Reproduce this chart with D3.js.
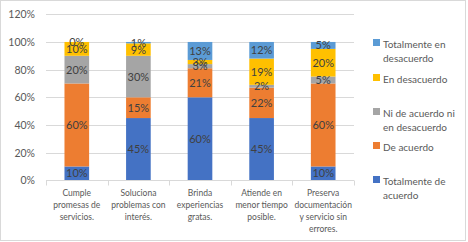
<!DOCTYPE html>
<html><head><meta charset="utf-8">
<script src="https://cdn.jsdelivr.net/npm/d3@7"></script>
<style>body{margin:0;background:#fff}svg{display:block;font-family:Lato,"Liberation Sans",sans-serif}</style>
</head><body><svg id="c" width="468" height="242"></svg>
<script>
const categories = [["Cumple","promesas de","servicios."],["Soluciona","problemas con","interés."],["Brinda","experiencias","gratas."],["Atiende en","menor tiempo","posible."],["Preserva","documentación","y servicio sin","errores."]];
const seriesNames = ["Totalmente de acuerdo","De acuerdo","Ni de acuerdo ni en desacuerdo","En desacuerdo","Totalmente en desacuerdo"];
const totAcuerdo = [10,45,60,45,10];
const deAcuerdo = [60,15,21,22,60];
const niNi = [20,30,3,2,5];
const enDesacuerdo = [10,9,3,19,20];
const totDesacuerdo = [0,1,13,12,5];
const yTicks = [0,20,40,60,80,100,120];
const colors = ["#4472C4","#ED7D31","#A5A5A5","#FFC000","#5B9BD5"];
const legendLines = [["Totalmente en","desacuerdo"],["En desacuerdo"],["Ni de acuerdo ni","en desacuerdo"],["De acuerdo"],["Totalmente de","acuerdo"]];

const svg = d3.select("#c");
svg.append("rect").attr("x",0.5).attr("y",0.5).attr("width",465).attr("height",240).attr("fill","#fff").attr("stroke","#D9D9D9");

const x = d3.scaleBand().domain(d3.range(categories.length)).range([46,354]).paddingInner(0.6).paddingOuter(0.3);
const y = d3.scaleLinear().domain([0,120]).range([180.3,14.3]);

// gridlines
svg.append("g").selectAll("line").data(yTicks.filter(d=>d>0)).join("line")
  .attr("x1",46).attr("x2",354).attr("y1",d=>Math.round(y(d))+0.5).attr("y2",d=>Math.round(y(d))+0.5)
  .attr("stroke","#D9D9D9");

// y axis labels
const yAxis = d3.axisLeft(y).tickValues(yTicks).tickFormat(d=>d+"%").tickSize(0).tickPadding(11);
const ya = svg.append("g").attr("transform","translate(46,0)").call(yAxis);
ya.select(".domain").remove();
ya.selectAll("text").attr("fill","#595959").attr("font-size","10.5px").attr("font-family","Lato,sans-serif");

const seriesData = [totAcuerdo,deAcuerdo,niNi,enDesacuerdo,totDesacuerdo];
const rows = categories.map((c,i)=>{const o={i}; seriesData.forEach((s,k)=>o[k]=s[i]); return o;});
const stack = d3.stack().keys(d3.range(5))(rows);

const g = svg.append("g");
stack.forEach((layer,k)=>{
  g.append("g").selectAll("rect").data(layer).join("rect")
   .attr("x",d=>x(d.data.i)).attr("width",x.bandwidth())
   .attr("y",d=>y(d[1])).attr("height",d=>y(d[0])-y(d[1]))
   .attr("fill",colors[k]);
});
stack.forEach((layer,k)=>{
  g.append("g").selectAll("text").data(layer).join("text")
   .attr("x",d=>x(d.data.i)+x.bandwidth()/2).attr("y",d=>(y(d[0])+y(d[1]))/2)
   .attr("dy","0.36em").attr("text-anchor","middle").attr("font-size","11px").attr("fill","#404040")
   .text(d=>(d[1]-d[0])+"%");
});

// x axis
const xa = svg.append("g").attr("transform","translate(0,180.5)");
xa.append("line").attr("x1",46).attr("x2",354).attr("stroke","#D9D9D9");
const bounds = d3.range(categories.length+1).map(i=>46+i*(308/categories.length));
xa.selectAll("line.t").data(bounds).join("line").attr("class","t")
  .attr("x1",d=>Math.round(d)+0.5).attr("x2",d=>Math.round(d)+0.5).attr("y1",0).attr("y2",5).attr("stroke","#D9D9D9");
categories.forEach((lines,i)=>{
  const t = xa.append("text").attr("text-anchor","middle").attr("font-size","8.5px").attr("fill","#595959");
  lines.forEach((l,j)=>t.append("tspan").attr("x",x(i)+x.bandwidth()/2).attr("y",15.5+j*12).text(l));
});

// legend
const legY = [45,80,114,148,182];
const lg = svg.append("g");
legendLines.forEach((lines,i)=>{
  const k = 4-i;
  lg.append("rect").attr("x",373).attr("y",legY[i]-6).attr("width",7).attr("height",7).attr("fill",colors[k]);
  const t = lg.append("text").attr("font-size","10px").attr("fill","#595959");
  lines.forEach((l,j)=>t.append("tspan").attr("x",383).attr("y",legY[i]+j*13.5).attr("dy","0.32em").text(l));
});
</script></body></html>
